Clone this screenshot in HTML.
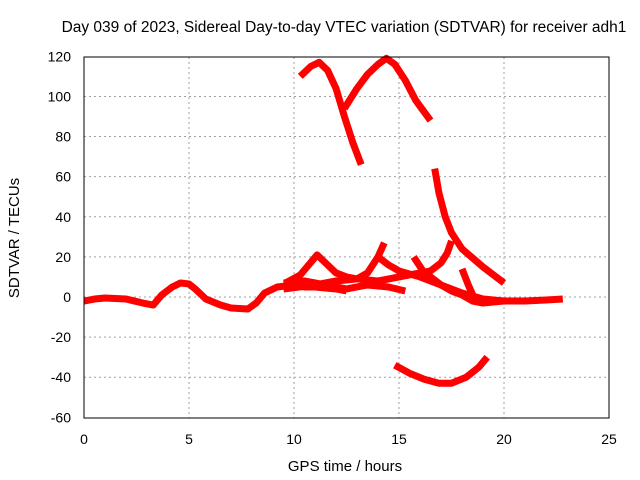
<!DOCTYPE html>
<html><head><meta charset="utf-8"><style>
body{margin:0;background:#fff;}
svg{display:block;font-family:"Liberation Sans",sans-serif;}
</style></head><body>
<svg id="chart" width="640" height="480">
<text x="344" y="32" font-size="15.5" text-anchor="middle">Day 039 of 2023, Sidereal Day-to-day VTEC variation (SDTVAR) for receiver adh1</text>
<text x="345" y="471" font-size="15" text-anchor="middle">GPS time / hours</text>
<text transform="translate(19,238) rotate(-90)" font-size="15" text-anchor="middle">SDTVAR / TECUs</text>
<g id="grid"></g><g id="series"></g>
<rect x="84" y="57" width="525" height="361" fill="none" stroke="#000"/>
</svg>
<script>
const xTicks=[0,5,10,15,20,25];
const yTicks=[-60,-40,-20,0,20,40,60,80,100,120];
const baseline=[[0,-2],[0.5,-1],[1,-0.5],[2,-1],[2.8,-3],[3.3,-4],[3.7,1],[4.2,5],[4.6,7],[5,6.5],[5.3,4],[5.8,-1],[6.5,-4],[7,-5.5],[7.8,-6],[8.2,-3],[8.6,2],[9.2,5],[10,6],[10.5,5],[11,5],[12,4],[12.5,3]];
const twinPeaks=[[9.6,7],[10.3,11],[11.1,21],[11.5,17],[12,12],[12.5,10],[13,9],[13.5,12],[14,20],[14.3,27]];
const decayA=[[14,20],[14.5,16],[15,13],[16,10],[17,6],[18,2],[19,-1],[20,-2],[21,-2],[22,-1.5],[22.8,-1]];
const riseA=[[9.5,4],[11,6],[12,8],[13,9],[14,8],[15,10],[16,12],[16.5,13],[17,17],[17.3,22],[17.5,28]];
const cluster=[[9.5,7],[10.5,8],[11.5,6],[12.5,4],[13.5,6],[14.5,5],[15.3,3]];
const bigDecay=[[16.7,64],[16.9,52],[17.2,40],[17.5,32],[18,24],[19,15],[20,7]];
const smallDecay=[[15.7,20],[16.2,12],[16.5,10],[17,6],[17.5,3],[18,1],[18.5,-2],[19,-3],[20,-2]];
const spike=[[18,14],[18.3,6],[18.6,-1]];
const topA=[[10.3,110],[10.8,115],[11.2,117],[11.6,113],[12,104],[12.4,90],[12.8,77],[13.2,66]];
const topB=[[12.4,94],[13,104],[13.5,111],[14,116],[14.4,119],[14.8,116],[15.3,108],[15.8,98],[16.5,88]];
const bottom=[[14.8,-34],[15.5,-38],[16.2,-41],[16.9,-43],[17.5,-43],[18.2,-40],[18.8,-35],[19.2,-30]];
const allSeries=[baseline,twinPeaks,decayA,riseA,cluster,bigDecay,smallDecay,spike,topA,topB,bottom];
const X=t=>84+t*21, Y=v=>297-v*2.0056;
const NS="http://www.w3.org/2000/svg";
const grid=document.getElementById('grid'), ser=document.getElementById('series');
function mk(tag,a){const e=document.createElementNS(NS,tag);for(const k in a)e.setAttribute(k,a[k]);return e;}
xTicks.forEach(t=>{
 if(t>0&&t<25){const l=mk('line',{x1:X(t),x2:X(t),y1:57,y2:418,stroke:'#a0a0a0','stroke-dasharray':'2,3'});
 
 grid.appendChild(l);}
 const tx=mk('text',{x:X(t),y:444,'font-size':14,'text-anchor':'middle'});tx.textContent=t;
 
 grid.appendChild(tx);
});
yTicks.forEach(v=>{
 if(v>-60&&v<120){const l=mk('line',{x1:84,x2:609,y1:Y(v),y2:Y(v),stroke:'#a0a0a0','stroke-dasharray':'2,3'});
 
 grid.appendChild(l);}
 const tx=mk('text',{x:71,y:Y(v)+5,'font-size':14,'text-anchor':'end'});tx.textContent=v;
 
 grid.appendChild(tx);
});
allSeries.forEach(s=>{
 const p=mk('polyline',{points:s.map(d=>X(d[0])+','+Y(d[1])).join(' '),fill:'none',stroke:'#ff0000','stroke-width':7,'stroke-linejoin':'round'});
 
 ser.appendChild(p);
});
</script>
</body></html>
